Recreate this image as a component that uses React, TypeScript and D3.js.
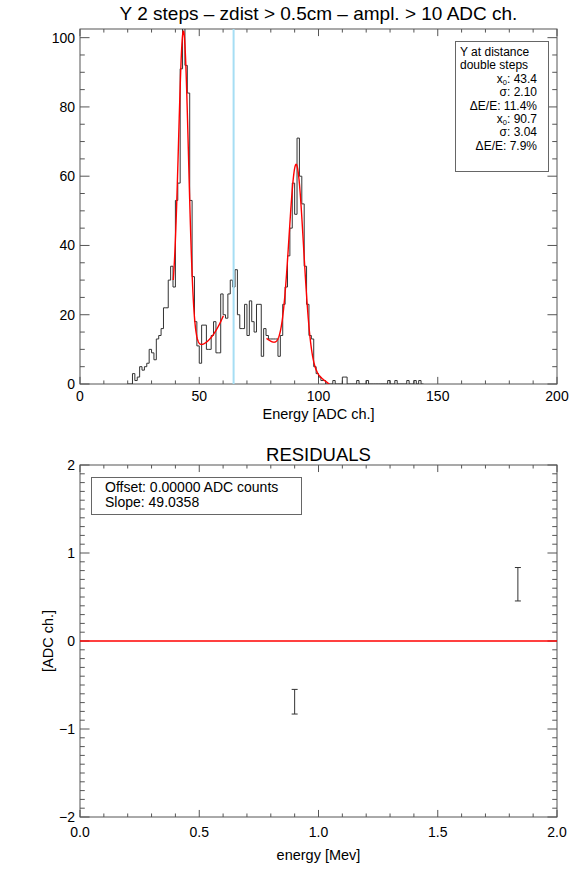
import React from "react";
import * as d3 from "d3";

const FONT = "'Liberation Sans', Arial, Helvetica, sans-serif";

// energy histogram, 1 ADC ch. per bin, first bin at HIST_START
const HIST_START = 20;
const HIST_COUNTS = [
  0, 0, 3, 1, 2, 5, 4, 5, 6, 10, 9, 7, 13, 14, 16, 22, 22, 30, 34, 28,
  53, 58, 91, 104, 92, 84, 53, 31, 18, 11, 6, 17, 17, 10, 10, 14, 18, 9, 9, 26,
  20, 19, 26, 30, 28, 33, 20, 16, 16, 23, 14, 24, 18, 15, 23, 23, 8, 16, 14, 13,
  13, 13, 13, 8, 14, 23, 28, 37, 45, 58, 49, 71, 60, 52, 34, 23, 14, 13, 5, 3,
  2, 1, 1, 0, 0, 0, 1, 0, 0, 0, 2, 2, 0, 0, 0, 0, 1, 0, 0, 0,
  1, 0, 0, 0, 0, 0, 0, 0, 0, 1, 0, 0, 1, 0, 0, 0, 0, 1, 0, 0,
  1, 0, 1, 0,
];

// gaussian fits (x0 and sigma from the legend), with their backgrounds
const FIT1 = { x0: 43.4, sigma: 2.1, amp: 88, from: 39.1, to: 60.1 };
const FIT1_BG = { c: 11.3, slope: 0.235, curv: 0.0756, at: 51 };
const FIT2 = { x0: 90.7, sigma: 3.04, amp: 56.5, from: 78.2, to: 104.5 };
const FIT2_BG = { slope: -0.5, zeroAt: 104.5 };

const CUT_ADC = 64.4;

const LEGEND_HEAD = ["Y at distance", "double steps"];
const LEGEND_ROWS = [
  { label: "x", sub: "0", value: "43.4" },
  { label: "\u03c3", sub: "", value: "2.10" },
  { label: "\u0394E/E", sub: "", value: "11.4%" },
  { label: "x", sub: "0", value: "90.7" },
  { label: "\u03c3", sub: "", value: "3.04" },
  { label: "\u0394E/E", sub: "", value: "7.9%" },
];

const ADC_TICKS = [0, 50, 100, 150, 200];
const COUNT_TICKS = [0, 20, 40, 60, 80, 100];

// residuals of the calibration line
const RES_ENERGY = [0.9, 1.836];
const RES_VALUE = [-0.69, 0.645];
const RES_ERR = [0.14, 0.19];
const MEV_TICKS = [0, 0.5, 1, 1.5, 2];
const RES_TICKS = [-2, -1, 0, 1, 2];
const CALIB_TEXT = ["Offset: 0.00000 ADC counts", "Slope: 49.0358"];

const TOP = { left: 80, right: 557, top: 29, bottom: 384 };
const BOT = { left: 80, right: 557, top: 465, bottom: 817 };

const gauss = (f, x) => f.amp * Math.exp(-((x - f.x0) ** 2) / (2 * f.sigma ** 2));
const bg1 = (x) => FIT1_BG.c + FIT1_BG.slope * (x - FIT1_BG.at) + FIT1_BG.curv * (x - FIT1_BG.at) ** 2;
const bg2 = (x) => Math.max(0, FIT2_BG.slope * (x - FIT2_BG.zeroAt));

const Frame = ({ box, xScale, yScale, xMajor, xMinor, yMajor, yMinor }) => {
  const xLen = 0.02 * (box.bottom - box.top);
  const yLen = 0.02 * (box.right - box.left);
  const xt = d3.range(xScale.domain()[0], xScale.domain()[1] + 1e-9, xMinor);
  const yt = d3.range(yScale.domain()[0], yScale.domain()[1] + 1e-9, yMinor);
  const isMajor = (v, step) => Math.abs(v / step - Math.round(v / step)) < 1e-6;
  return (
    <g stroke="#555" strokeWidth={1} fill="none">
      <rect x={box.left} y={box.top} width={box.right - box.left} height={box.bottom - box.top} />
      {xt.map((v, i) => {
        const x = xScale(v);
        const l = isMajor(v, xMajor) ? xLen : xLen / 2;
        return (
          <g key={"x" + i}>
            <line x1={x} x2={x} y1={box.bottom} y2={box.bottom - l} />
            <line x1={x} x2={x} y1={box.top} y2={box.top + l} />
          </g>
        );
      })}
      {yt.map((v, i) => {
        const y = yScale(v);
        const l = isMajor(v, yMajor) ? yLen : yLen / 2;
        return (
          <g key={"y" + i}>
            <line x1={box.left} x2={box.left + l} y1={y} y2={y} />
            <line x1={box.right} x2={box.right - l} y1={y} y2={y} />
          </g>
        );
      })}
    </g>
  );
};

export default function App() {
  const x = d3.scaleLinear().domain([0, 200]).range([TOP.left, TOP.right]);
  const y = d3.scaleLinear().domain([0, 102.5]).range([TOP.bottom, TOP.top]);
  const ex = d3.scaleLinear().domain([0, 2]).range([BOT.left, BOT.right]);
  const ry = d3.scaleLinear().domain([-2, 2]).range([BOT.bottom, BOT.top]);

  const histPts = HIST_COUNTS.map((c, i) => [HIST_START + i, c]);
  histPts.push([HIST_START + HIST_COUNTS.length, 0]);
  const histPath = d3
    .line()
    .x((d) => x(d[0]))
    .y((d) => y(d[1]))
    .curve(d3.curveStepAfter)(histPts);

  const fitLine = d3
    .line()
    .x((d) => x(d[0]))
    .y((d) => y(d[1]))
    .curve(d3.curveLinear);
  const fit1 = d3.range(FIT1.from, FIT1.to + 0.01, 0.1).map((v) => [v, gauss(FIT1, v) + bg1(v)]);
  const fit2 = d3.range(FIT2.from, FIT2.to + 0.01, 0.1).map((v) => [v, gauss(FIT2, v) + bg2(v)]);

  const midX = (TOP.left + TOP.right) / 2;

  return (
    <svg
      width={581}
      height={873}
      style={{ position: "absolute", left: 0, top: 0, background: "#fff" }}
      fontFamily={FONT}
    >
      <defs>
        <clipPath id="topClip">
          <rect x={TOP.left} y={TOP.top} width={TOP.right - TOP.left} height={TOP.bottom - TOP.top} />
        </clipPath>
      </defs>
      <rect width={581} height={873} fill="#fff" />

      {/* energy spectrum */}
      <text x={midX} y={20} fontSize={19} textAnchor="middle" fill="#000">
        Y 2 steps – zdist &gt; 0.5cm – ampl. &gt; 10 ADC ch.
      </text>
      <Frame box={TOP} xScale={x} yScale={y} xMajor={50} xMinor={10} yMajor={20} yMinor={5} />
      <g clipPath="url(#topClip)">
        <path d={histPath} fill="none" stroke="#333" strokeWidth={1} />
        <line x1={x(CUT_ADC)} x2={x(CUT_ADC)} y1={TOP.top} y2={TOP.bottom} stroke="#a6def4" strokeWidth={2} />
        <path d={fitLine(fit1)} fill="none" stroke="#ff0000" strokeWidth={1.4} />
        <path d={fitLine(fit2)} fill="none" stroke="#ff0000" strokeWidth={1.4} />
      </g>
      {ADC_TICKS.map((t) => (
        <text key={t} x={x(t)} y={401} fontSize={14} textAnchor="middle">
          {t}
        </text>
      ))}
      {COUNT_TICKS.map((t) => (
        <text key={t} x={TOP.left - 5} y={y(t) + 5} fontSize={14} textAnchor="end">
          {t}
        </text>
      ))}
      <text x={midX} y={419} fontSize={14.5} textAnchor="middle">
        Energy [ADC ch.]
      </text>

      <g fontSize={12}>
        <rect x={455.5} y={41.5} width={93} height={130} fill="#fff" stroke="#666" />
        {LEGEND_HEAD.map((s, i) => (
          <text key={s} x={460} y={56 + i * 13.4}>
            {s}
          </text>
        ))}
        {LEGEND_ROWS.map((r, i) => (
          <text key={i} x={537} y={82.8 + i * 13.4} textAnchor="end">
            {r.label}
            {r.sub && (
              <tspan fontSize={7.5} dy={2}>
                {r.sub}
              </tspan>
            )}
            <tspan dy={r.sub ? -2 : 0}>{": " + r.value}</tspan>
          </text>
        ))}
      </g>

      {/* residuals */}
      <text x={midX} y={461} fontSize={18.5} textAnchor="middle">
        RESIDUALS
      </text>
      <Frame box={BOT} xScale={ex} yScale={ry} xMajor={0.5} xMinor={0.1} yMajor={1} yMinor={0.1} />
      <line x1={BOT.left} x2={BOT.right} y1={ry(0)} y2={ry(0)} stroke="#ff0000" strokeWidth={1.4} />
      {RES_ENERGY.map((e, i) => {
        const cx = ex(e);
        const y1 = ry(RES_VALUE[i] + RES_ERR[i]);
        const y2 = ry(RES_VALUE[i] - RES_ERR[i]);
        return (
          <g key={i} stroke="#333" strokeWidth={1}>
            <line x1={cx} x2={cx} y1={y1} y2={y2} />
            <line x1={cx - 3} x2={cx + 3} y1={y1} y2={y1} />
            <line x1={cx - 3} x2={cx + 3} y1={y2} y2={y2} />
          </g>
        );
      })}
      {MEV_TICKS.map((t) => (
        <text key={t} x={ex(t)} y={837} fontSize={14} textAnchor="middle">
          {t.toFixed(1)}
        </text>
      ))}
      {RES_TICKS.map((t) => (
        <text key={t} x={BOT.left - 5} y={ry(t) + 5} fontSize={14} textAnchor="end">
          {t < 0 ? "\u2212" + Math.abs(t) : t}
        </text>
      ))}
      <text x={midX} y={860} fontSize={14.5} textAnchor="middle">
        energy [Mev]
      </text>
      <text transform={`translate(53,${ry(0)}) rotate(-90)`} fontSize={14.5} textAnchor="middle">
        [ADC ch.]
      </text>
      <rect x={91.5} y={477.5} width={210} height={37} fill="#fff" stroke="#666" />
      {CALIB_TEXT.map((s, i) => (
        <text key={s} x={105} y={492 + i * 15} fontSize={14}>
          {s}
        </text>
      ))}
    </svg>
  );
}
